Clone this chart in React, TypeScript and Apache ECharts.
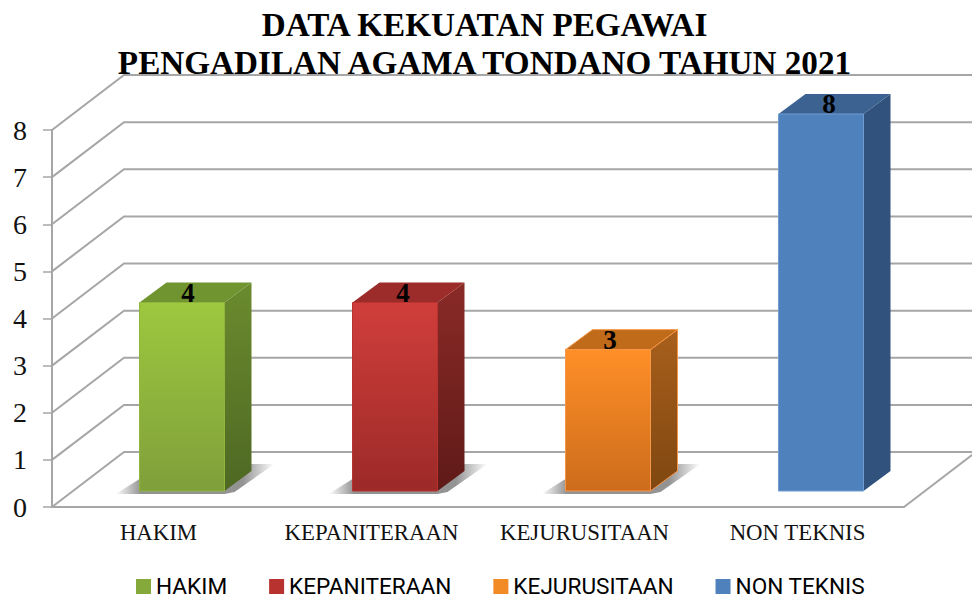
import React, { useEffect, useRef } from "react";
import * as echarts from "echarts";

const categories = ["HAKIM", "KEPANITERAAN", "KEJURUSITAAN", "NON TEKNIS"];
const values = [4, 4, 3, 8];
const yTicks = [0, 1, 2, 3, 4, 5, 6, 7, 8];
const titleLines = ["DATA KEKUATAN PEGAWAI", "PENGADILAN AGAMA TONDANO TAHUN 2021"];

const frontTop = ["#9ec83f", "#d03e3b", "#ff8f27", "#4f81bd"];
const frontBottom = ["#7f9f3a", "#9c2a28", "#cc6c1c", "#4f81bd"];
const sideTop = ["#6b8b2e", "#8a2a27", "#a85f1c", "#30527c"];
const sideBottom = ["#4e6823", "#5f1a18", "#7f4710", "#30527c"];
const topFace = ["#6f9430", "#9c2c2a", "#bf6b19", "#3c6291"];
const strokes = ["#8fb53c", "#b8332f", "#f79646", "#6f9bd0"];
const legendColors = ["#86a93b", "#b8332f", "#f28a26", "#4f81bd"];
const hasShadow = [true, true, true, false];
const labelDx = [6, 8, 2, 8];

const WALL_DX = 72;
const WALL_DY = -55;
const BAR_DX = 23.5;
const BAR_DY = -16;
const BAR_W = 85;
const DEPTH_X = 27;
const DEPTH_Y = -20;
const GRID = "#a6a6a6";

const grad = (a: string, b: string) =>
  new echarts.graphic.LinearGradient(0, 0, 0, 1, [
    { offset: 0, color: a },
    { offset: 1, color: b },
  ]);

const shadowGrad = () =>
  new echarts.graphic.LinearGradient(0, 0, 1, 0, [
    { offset: 0, color: "rgba(120,120,120,0)" },
    { offset: 0.16, color: "rgba(120,120,120,0.8)" },
    { offset: 0.8, color: "rgba(120,120,120,0.8)" },
    { offset: 1, color: "rgba(120,120,120,0)" },
  ]);

const wallSeries = {
  type: "custom",
  name: "wall",
  silent: true,
  z: 1,
  clip: false,
  coordinateSystem: "cartesian2d",
  data: yTicks.map((v) => [0, v]),
  encode: { x: 0, y: 1 },
  renderItem: (params: any, api: any) => {
    const v = api.value(1);
    const cs = params.coordSys;
    const y = api.coord([0, v])[1];
    const x0 = cs.x;
    const children: any[] = [
      {
        type: "polyline",
        shape: {
          points: [
            [x0, y],
            [x0 + WALL_DX, y + WALL_DY],
            [x0 + cs.width + WALL_DX, y + WALL_DY],
          ],
        },
        style: { stroke: GRID, lineWidth: 2, fill: "none" },
      },
    ];
    if (v === 0) {
      children.push({
        type: "line",
        shape: { x1: x0 + cs.width, y1: y, x2: x0 + cs.width + WALL_DX, y2: y + WALL_DY },
        style: { stroke: GRID, lineWidth: 2 },
      });
    }
    return { type: "group", children };
  },
};

const barSeries = categories.map((name, i) => ({
  type: "custom",
  name,
  z: 3,
  clip: false,
  coordinateSystem: "cartesian2d",
  itemStyle: { color: legendColors[i] },
  data: [[i, values[i]]],
  encode: { x: 0, y: 1 },
  renderItem: (_params: any, api: any) => {
    const top = api.coord([api.value(0), api.value(1)]);
    const base = api.coord([api.value(0), 0]);
    const L = top[0] + BAR_DX - BAR_W / 2;
    const R = L + BAR_W;
    const T = top[1] + BAR_DY;
    const B = base[1] + BAR_DY;
    const children: any[] = [];
    if (hasShadow[i]) {
      children.push({
        type: "polygon",
        shape: {
          points: [
            [L - 24, B + 3],
            [L, B - 12],
            [R + 27, B - 27],
            [R + 50, B - 27],
            [R + 10, B + 1],
            [R, B + 3],
          ],
        },
        style: { fill: shadowGrad() },
      });
    }
    children.push(
      {
        type: "polygon",
        shape: { points: [[R, T], [R + DEPTH_X, T + DEPTH_Y], [R + DEPTH_X, B + DEPTH_Y], [R, B]] },
        style: { fill: grad(sideTop[i], sideBottom[i]), stroke: i === 2 ? strokes[i] : "none", lineWidth: 1 },
      },
      {
        type: "polygon",
        shape: { points: [[L, T], [L + DEPTH_X, T + DEPTH_Y], [R + DEPTH_X, T + DEPTH_Y], [R, T]] },
        style: { fill: topFace[i], stroke: i === 2 ? strokes[i] : "none", lineWidth: 1 },
      },
      {
        type: "rect",
        shape: { x: L, y: T, width: BAR_W, height: B - T },
        style: { fill: grad(frontTop[i], frontBottom[i]), stroke: strokes[i], lineWidth: 1 },
      },
      {
        type: "text",
        x: (L + R) / 2 + labelDx[i],
        y: T - 10,
        style: {
          text: String(api.value(1)),
          fill: "#000",
          font: 'bold 27px "Liberation Serif"',
          align: "center",
          verticalAlign: "middle",
        },
      }
    );
    return { type: "group", children };
  },
}));

export default function App() {
  const ref = useRef<HTMLDivElement>(null);
  useEffect(() => {
    const chart = echarts.init(ref.current!, null, { renderer: "svg" });
    chart.setOption({
      animation: false,
      backgroundColor: "#fff",
      title: {
        text: titleLines.join("\n"),
        left: 479.5,
        top: 0,
        textAlign: "center",
        textStyle: {
          fontFamily: "Liberation Serif",
          fontWeight: "bold",
          fontSize: 33.2,
          lineHeight: 38,
          color: "#000",
        },
      },
      legend: {
        data: categories,
        left: 131,
        top: 570,
        padding: [5, 5, 0, 5],
        itemWidth: 15,
        itemHeight: 15,
        itemGap: 42,
        icon: "rect",
        textStyle: { fontFamily: "Roboto", fontSize: 22.6, lineHeight: 18, color: "#000" },
      },
      grid: { left: 52, right: 68, top: 130, bottom: 87 },
      xAxis: {
        type: "category",
        data: categories,
        axisLine: { lineStyle: { color: GRID, width: 2 } },
        axisTick: { length: 6, lineStyle: { color: GRID, width: 1.5 } },
        axisLabel: { fontFamily: "Liberation Serif", fontSize: 22.8, color: "#111", margin: 14, interval: 0 },
      },
      yAxis: {
        type: "value",
        min: 0,
        max: 8,
        interval: 1,
        splitLine: { show: false },
        axisLine: { show: true, lineStyle: { color: GRID, width: 2 } },
        axisTick: { show: true, length: 9, lineStyle: { color: GRID, width: 1.5 } },
        axisLabel: { fontFamily: "Liberation Serif", fontSize: 28, color: "#111", margin: 25, padding: [4, 0, 0, 0] },
      },
      series: [wallSeries, ...barSeries],
    });
    return () => chart.dispose();
  }, []);
  return <div ref={ref} style={{ position: "absolute", left: 0, top: 0, width: 972, height: 594 }} />;
}
